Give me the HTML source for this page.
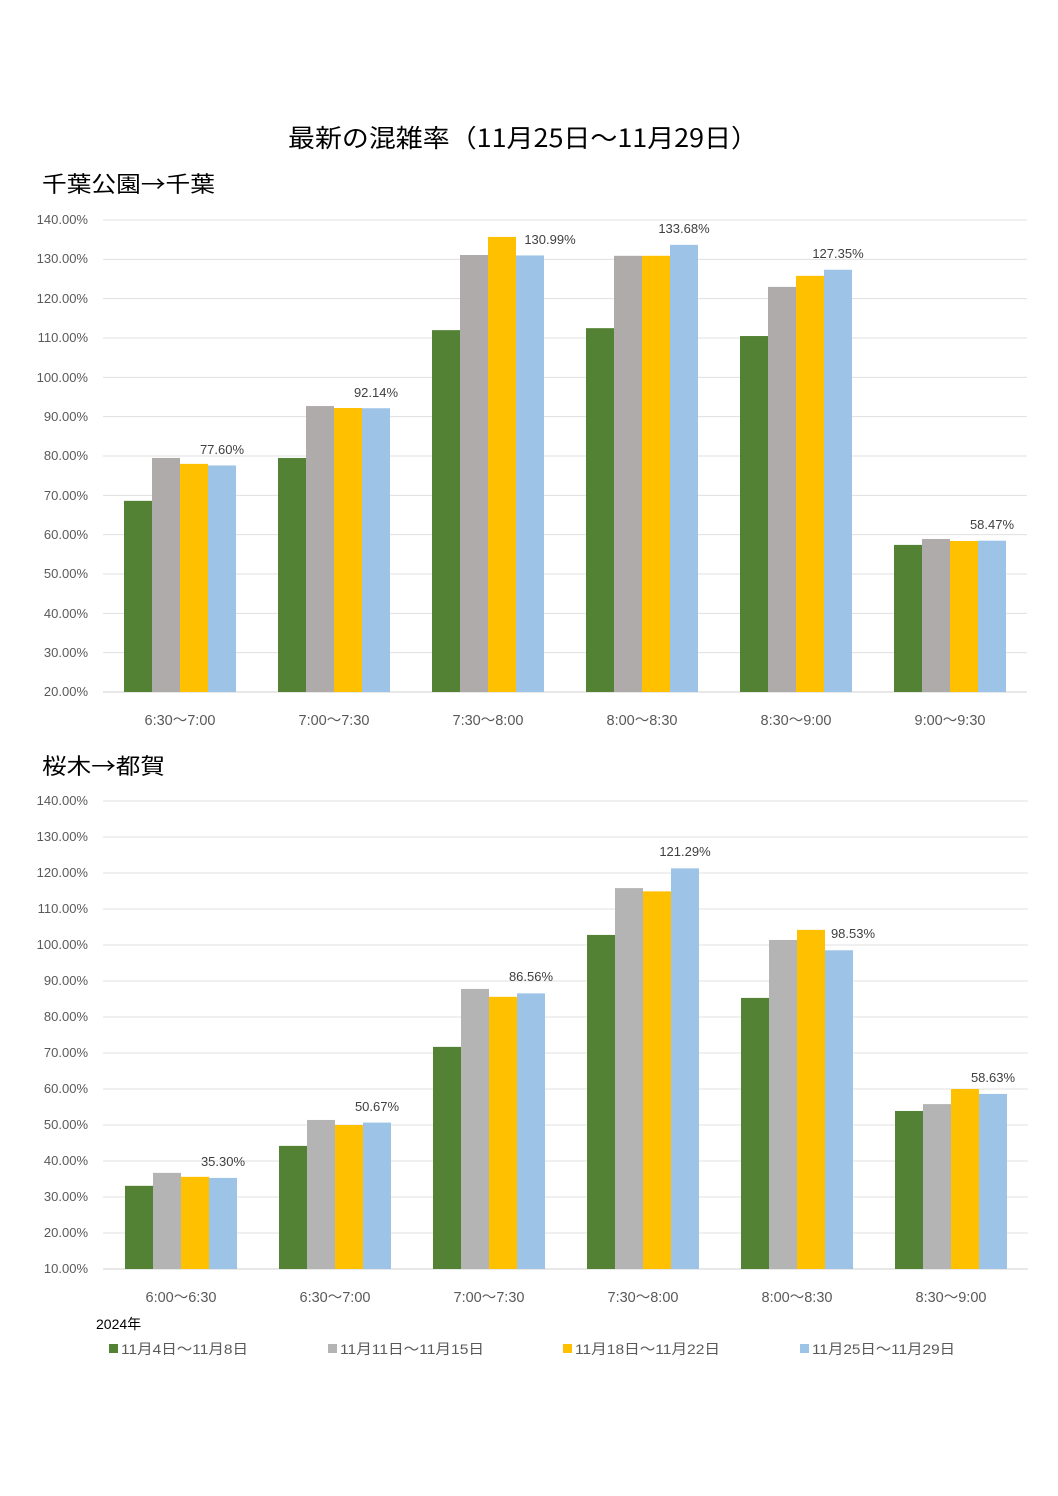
<!DOCTYPE html>
<html><head><meta charset="utf-8"><style>
html,body{margin:0;padding:0;background:#fff;width:1058px;height:1496px;overflow:hidden}
svg{display:block}
text{font-family:"Liberation Sans","Noto Sans CJK JP",sans-serif}
.tk{font-size:13px;fill:#595959;text-anchor:end}
.ct{font-size:14.5px;fill:#595959;text-anchor:middle}
.vl{font-size:13px;fill:#404040;text-anchor:middle}
.lg{font-size:14px;fill:#595959}
.cj{font-family:"Noto Sans CJK JP",sans-serif}
</style></head><body>
<svg id="s" width="1058" height="1496" xmlns="http://www.w3.org/2000/svg">
<text x="288" y="147" font-size="25" fill="#000" class="cj" textLength="470" lengthAdjust="spacingAndGlyphs">最新の混雑率（11月25日～11月29日）</text>
<text x="42" y="192" font-size="22" fill="#000" class="cj" textLength="173" lengthAdjust="spacingAndGlyphs">千葉公園→千葉</text>
<text x="42" y="774" font-size="22" fill="#000" class="cj" textLength="123" lengthAdjust="spacingAndGlyphs">桜木→都賀</text>
<g id="g1"></g><g id="g2"></g>
<g class="tk">
<text x="88" y="224">140.00%</text><text x="88" y="263">130.00%</text><text x="88" y="303">120.00%</text><text x="88" y="342">110.00%</text><text x="88" y="382">100.00%</text><text x="88" y="421">90.00%</text><text x="88" y="460">80.00%</text><text x="88" y="500">70.00%</text><text x="88" y="539">60.00%</text><text x="88" y="578">50.00%</text><text x="88" y="618">40.00%</text><text x="88" y="657">30.00%</text><text x="88" y="696">20.00%</text>
<text x="88" y="805">140.00%</text><text x="88" y="841">130.00%</text><text x="88" y="877">120.00%</text><text x="88" y="913">110.00%</text><text x="88" y="949">100.00%</text><text x="88" y="985">90.00%</text><text x="88" y="1021">80.00%</text><text x="88" y="1057">70.00%</text><text x="88" y="1093">60.00%</text><text x="88" y="1129">50.00%</text><text x="88" y="1165">40.00%</text><text x="88" y="1201">30.00%</text><text x="88" y="1237">20.00%</text><text x="88" y="1273">10.00%</text>
</g>
<g class="ct">
<text x="180" y="725">6:30～7:00</text><text x="334" y="725">7:00～7:30</text><text x="488" y="725">7:30～8:00</text><text x="642" y="725">8:00～8:30</text><text x="796" y="725">8:30～9:00</text><text x="950" y="725">9:00～9:30</text>
<text x="181" y="1302">6:00～6:30</text><text x="335" y="1302">6:30～7:00</text><text x="489" y="1302">7:00～7:30</text><text x="643" y="1302">7:30～8:00</text><text x="797" y="1302">8:00～8:30</text><text x="951" y="1302">8:30～9:00</text>
</g>
<g class="vl">
<text x="222" y="454">77.60%</text><text x="376" y="397">92.14%</text><text x="550" y="244">130.99%</text><text x="684" y="233">133.68%</text><text x="838" y="258">127.35%</text><text x="992" y="529">58.47%</text>
<text x="223" y="1166">35.30%</text><text x="377" y="1111">50.67%</text><text x="531" y="981">86.56%</text><text x="685" y="856">121.29%</text><text x="853" y="938">98.53%</text><text x="993" y="1082">58.63%</text>
</g>
<text x="96" y="1329" font-size="14" fill="#000">2024年</text>
<rect x="109" y="1344" width="9" height="9" fill="#548235"/><text class="lg" x="121" y="1354" textLength="127" lengthAdjust="spacingAndGlyphs">11月4日～11月8日</text>
<rect x="328" y="1344" width="9" height="9" fill="#B4B4B4"/><text class="lg" x="340" y="1354" textLength="144" lengthAdjust="spacingAndGlyphs">11月11日～11月15日</text>
<rect x="563" y="1344" width="9" height="9" fill="#FFC000"/><text class="lg" x="575" y="1354" textLength="145" lengthAdjust="spacingAndGlyphs">11月18日～11月22日</text>
<rect x="800" y="1344" width="9" height="9" fill="#9DC3E6"/><text class="lg" x="812" y="1354" textLength="143" lengthAdjust="spacingAndGlyphs">11月25日～11月29日</text>
</svg>
<script>
var NS="http://www.w3.org/2000/svg",cols=["#548235","#AEABAA","#FFC000","#9DC3E6"];
function draw(id,x0,x1,ybase,vmin,vmax,ytop,data,off){
 var g=document.getElementById(id),px=(ybase-ytop)/(vmax-vmin);
 for(var v=vmin;v<=vmax;v+=10){var l=document.createElementNS(NS,"line"),y=ybase-(v-vmin)*px;
  l.setAttribute("x1",x0);l.setAttribute("x2",x1);l.setAttribute("y1",y);l.setAttribute("y2",y);
  l.setAttribute("stroke",v==vmin?"#D0D0D0":"#E0E0E0");l.setAttribute("stroke-width","1");g.appendChild(l);}
 data.forEach(function(grp,i){grp.forEach(function(v,j){var r=document.createElementNS(NS,"rect"),h=(v-vmin)*px;
  r.setAttribute("x",124+off+i*154+j*28);r.setAttribute("width",28);r.setAttribute("y",ybase-h);r.setAttribute("height",h);
  r.setAttribute("fill",j==1&&id=="g2"?"#B4B4B4":cols[j]);g.appendChild(r);});});
}
draw("g1",103,1027,692,20,140,220,[[68.6,79.5,78.0,77.6],[79.5,92.7,92.2,92.14],[112,131.1,135.7,130.99],[112.5,130.9,130.9,133.68],[110.5,123,125.8,127.35],[57.4,58.9,58.4,58.47]],0);
draw("g2",103,1028,1269,10,140,801,[[33.1,36.7,35.6,35.3],[44.2,51.4,50,50.67],[71.7,87.8,85.6,86.56],[102.8,115.8,114.9,121.29],[85.3,101.4,104.2,98.53],[53.9,55.8,60,58.63]],1);
</script>
</body></html>
